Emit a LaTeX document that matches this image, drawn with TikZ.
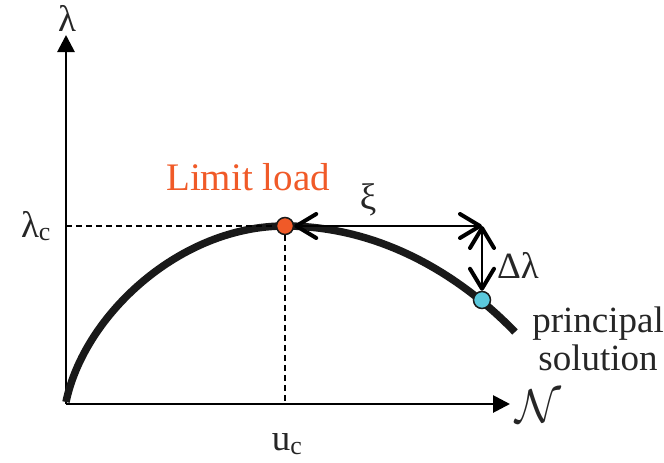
\documentclass[tikz,border=0pt]{standalone}
\usepackage{fontspec}
\setmainfont{Liberation Serif}
\usetikzlibrary{arrows.meta, positioning}
\definecolor{limitred}{HTML}{F05A28}
\definecolor{solblue}{HTML}{5BC8DC}

\begin{document}
\begin{tikzpicture}[
  x=1pt, y=-1pt,
  lbl/.style={font=\fontsize{37}{40}\selectfont, text=black!85, inner sep=0pt},
  axis/.style={line width=2.8pt, -{Triangle[length=17pt, width=17pt]}},
  guide/.style={line width=1.5pt, dash pattern=on 6pt off 4pt},
  branch/.style={line width=7.5pt, black!90},
  pt/.style={circle, draw=black!90, line width=1.5pt, minimum size=17pt, inner sep=0pt, fill=#1},
  barb/.style={line width=1.5pt, {Straight Barb[length=20pt, width=24pt, line width=4pt, round]}-{Straight Barb[length=20pt, width=24pt, line width=4pt, round]}}
]
  \useasboundingbox (0,0) rectangle (664,463);

  % axes
  \coordinate (orig) at (66,404);
  \coordinate (ytop) at (66,35);
  \coordinate (xend) at (510,404);
  \draw[axis] (orig) -- (ytop);
  \draw[axis] (orig) -- (xend);
  \node[lbl] (lam) at (67,18) {λ};
  \node[lbl, anchor=west] (calN) at (515,406) {\scalebox{1.9}{$\mathcal{N}$}};

  % equilibrium path
  \draw[branch] (66,402) .. controls (84,315) and (180,226) .. (285,226)
                         .. controls (380,226) and (460,275) .. (515,332);

  % points
  \node[pt=limitred] (limit) at (285,226) {};
  \node[pt=solblue] (sol) at (482,300) {};
  \coordinate (pred) at (482,226);
  \coordinate (lamc) at (66,226);
  \coordinate (uc) at (285,404);

  % guides
  \draw[guide] (lamc) -- (limit);
  \draw[guide] (limit) -- (uc);
  \node[lbl] (lamclbl) at (36,226) {λ\textsubscript{c}};
  \node[lbl] (uclbl) at (287,444) {u\textsubscript{c}};

  % arc length and load increment
  \draw[barb] (limit.east) -- (pred);
  \draw[barb] (pred) -- (sol.north);
  \node[lbl] (xi) at (368,200) {ξ};
  \node[lbl] (dlam) at (518,265) {Δλ};

  \node[lbl, text=limitred, font=\fontsize{39}{42}\selectfont] (limitlbl) at (248,177) {Limit load};
  \node[lbl, align=center, font=\fontsize{37}{38}\selectfont] (sollbl) at (598,339) {principal\\solution};
\end{tikzpicture}
\end{document}
